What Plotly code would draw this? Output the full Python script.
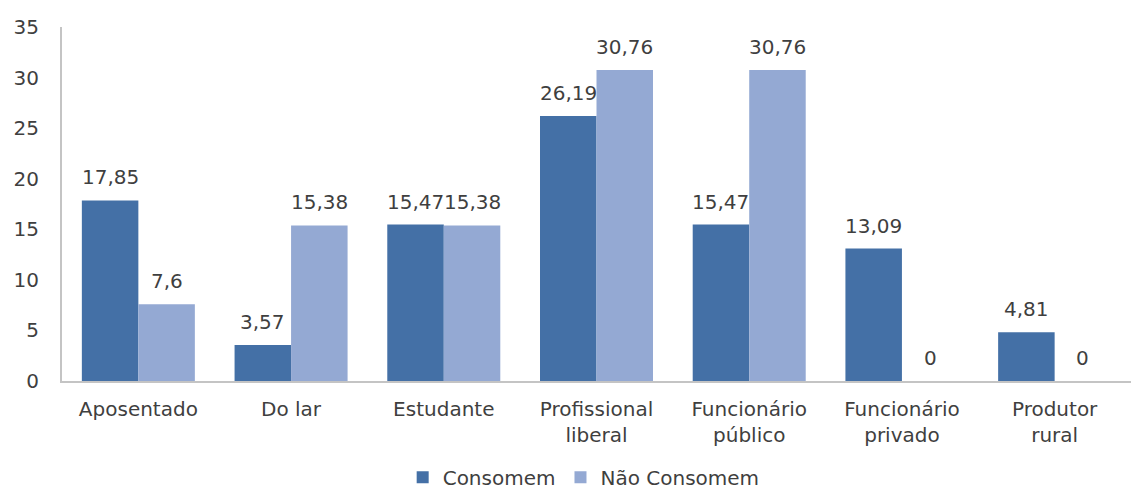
import plotly.graph_objects as go

categories = ["Aposentado", "Do lar", "Estudante", "Profissional<br>liberal",
              "Funcionário<br>público", "Funcionário<br>privado", "Produtor<br>rural"]
consomem = [17.85, 3.57, 15.47, 26.19, 15.47, 13.09, 4.81]
nao_consomem = [7.6, 15.38, 15.38, 30.76, 30.76, 0, 0]
y_ticks = [0, 5, 10, 15, 20, 25, 30, 35]

series = [
    ("Consomem", consomem, "#4470a6"),
    ("Não Consomem", nao_consomem, "#94a9d3"),
]


def fmt(v):
    return f"{v:g}".replace(".", ",")


font_family = "DejaVu Sans, Verdana, sans-serif"
text_color = "#3f3f3f"
bargap = 0.26
plot_left, plot_right = 62, 1131
slot = (plot_right - plot_left) / len(categories)
bar_px = slot * (1 - bargap) / len(series)

fig = go.Figure()
annotations = []
for i, (name, values, color) in enumerate(series):
    fig.add_trace(go.Bar(
        name=name, x=categories, y=values,
        marker=dict(color=color, line=dict(width=0)),
        cliponaxis=False,
    ))
    # value labels sit above each bar, shifted to that bar's slot in the group
    shift = (i - (len(series) - 1) / 2) * bar_px
    for cat, v in zip(categories, values):
        annotations.append(dict(
            x=cat, y=v, xref="x", yref="y", text=fmt(v), showarrow=False,
            xanchor="center", yanchor="bottom", xshift=shift, yshift=9,
            font=dict(size=20, color=text_color, family=font_family),
        ))

fig.update_layout(
    width=1131, height=491,
    margin=dict(l=plot_left, r=0, t=27, b=110, autoexpand=False),
    paper_bgcolor="white", plot_bgcolor="white",
    barmode="group", bargap=bargap, bargroupgap=0,
    font=dict(family=font_family, size=20, color=text_color),
    showlegend=True,
    legend=dict(orientation="h", x=0.488, xanchor="center", y=-0.272, yanchor="middle",
                font=dict(size=20, color=text_color), traceorder="normal",
                tracegroupgap=0),
    annotations=annotations,
)
fig.update_xaxes(
    showline=True, linecolor="#c4c4c4", linewidth=2,
    ticks="", showgrid=False, ticklabelstandoff=9,
    tickfont=dict(size=20, color=text_color),
)
fig.update_yaxes(
    range=[0, 35], tickvals=y_ticks, showgrid=False, zeroline=False,
    showline=True, linecolor="#c4c4c4", linewidth=2, ticks="",
    ticklabelstandoff=17, tickfont=dict(size=20, color=text_color),
)

fig.write_html("out.html")
